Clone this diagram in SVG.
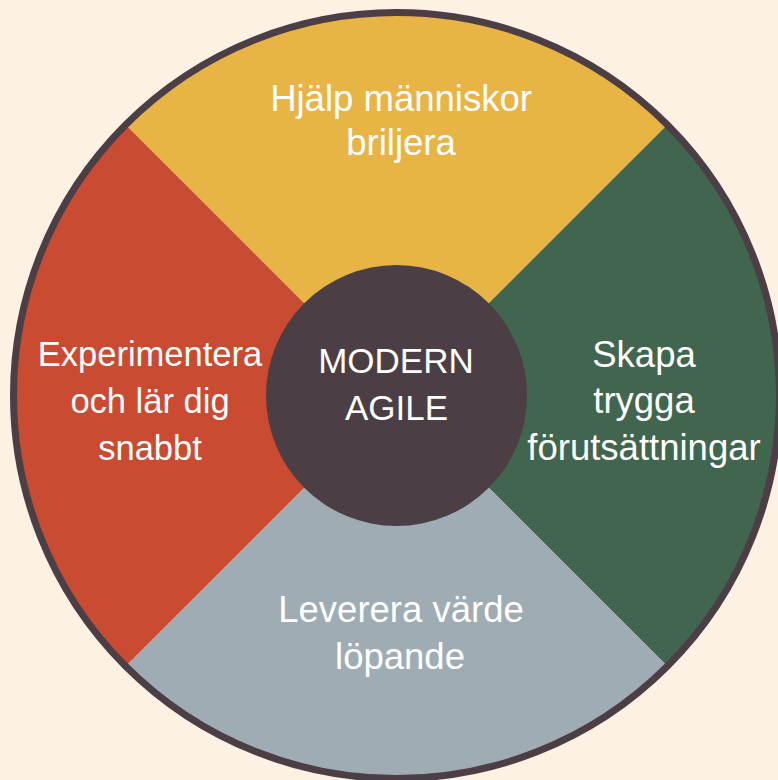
<svg xmlns="http://www.w3.org/2000/svg" width="778" height="780" viewBox="0 0 778 780">
  <style>
    .lbl { font-family: "Liberation Sans", Arial, sans-serif; font-size: 36.5px; fill: #FFFFFF; text-anchor: middle; }
    .ctr { font-family: "Liberation Sans", Arial, sans-serif; font-size: 35px; fill: #FFFFFF; text-anchor: middle; }
  </style>
  <rect x="0" y="0" width="778" height="780" fill="#FCF1E2"/>
  <g id="top">
    <path d="M396.5 395.5 L125.7 124.7 A383 383 0 0 1 667.3 124.7 Z" fill="#E8B445"/>
    <text class="lbl" x="401" y="111">Hjälp människor</text>
    <text class="lbl" x="401" y="154.5">briljera</text>
  </g>
  <g id="right">
    <path d="M396.5 395.5 L667.3 124.7 A383 383 0 0 1 667.3 666.3 Z" fill="#41654E"/>
    <text class="lbl" x="644" y="366.5">Skapa</text>
    <text class="lbl" x="644" y="413">trygga</text>
    <text class="lbl" x="644" y="460">förutsättningar</text>
  </g>
  <g id="bottom">
    <path d="M396.5 395.5 L667.3 666.3 A383 383 0 0 1 125.7 666.3 Z" fill="#A0ACB4"/>
    <text class="lbl" x="401" y="621.5">Leverera värde</text>
    <text class="lbl" x="400" y="668.5">löpande</text>
  </g>
  <g id="left">
    <path d="M396.5 395.5 L125.7 666.3 A383 383 0 0 1 125.7 124.7 Z" fill="#C84B32"/>
    <text class="lbl" x="150" y="366" style="font-size:34.5px">Experimentera</text>
    <text class="lbl" x="150" y="413" style="font-size:34.5px">och lär dig</text>
    <text class="lbl" x="150" y="460" style="font-size:34.5px">snabbt</text>
  </g>
  <circle id="rim" cx="396.5" cy="395.5" r="383" fill="none" stroke="#4B3F45" stroke-width="7"/>
  <g id="center">
    <circle cx="396.5" cy="395.5" r="130.5" fill="#4B3F45"/>
    <text class="ctr" x="396" y="372.5">MODERN</text>
    <text class="ctr" x="396.5" y="420">AGILE</text>
  </g>
</svg>
